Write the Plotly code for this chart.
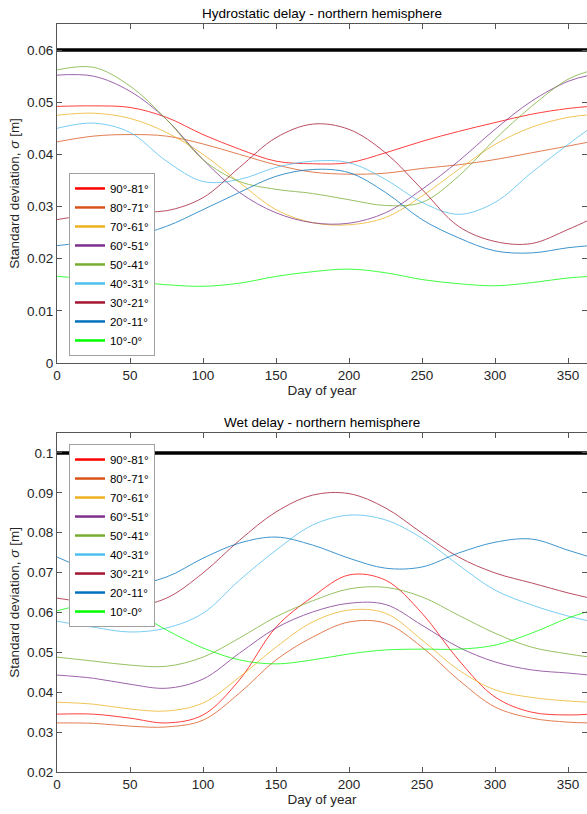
import plotly.graph_objects as go

days = [0, 25, 50, 75, 100, 125, 150, 175, 200, 225, 250, 275, 300, 325, 350, 365]

labels = ["90°-81°", "80°-71°", "70°-61°", "60°-51°", "50°-41°",
          "40°-31°", "30°-21°", "20°-11°", "10°-0°"]
colors = ["#FF0000", "#D95319", "#EDB120", "#7E2F8E", "#77AC30",
          "#4DBEEE", "#A2142F", "#0072BD", "#00FF00"]

# hydrostatic delay, std [m]
hydro_90_81 = [0.0492, 0.0493, 0.0490, 0.0471, 0.0438, 0.0410, 0.0387, 0.0382,
               0.0384, 0.0403, 0.0425, 0.0444, 0.0461, 0.0477, 0.0488, 0.0492]
hydro_80_71 = [0.0424, 0.0435, 0.0438, 0.0435, 0.0420, 0.0400, 0.0380, 0.0366,
               0.0362, 0.0364, 0.0373, 0.0380, 0.0390, 0.0403, 0.0416, 0.0424]
hydro_70_61 = [0.0475, 0.0479, 0.0469, 0.0442, 0.0400, 0.0346, 0.0294, 0.0269,
               0.0265, 0.0279, 0.0320, 0.0371, 0.0419, 0.0452, 0.0471, 0.0476]
hydro_60_51 = [0.0552, 0.0550, 0.0521, 0.0467, 0.0390, 0.0327, 0.0288, 0.0269,
               0.0268, 0.0288, 0.0333, 0.0387, 0.0448, 0.0502, 0.0540, 0.0552]
hydro_50_41 = [0.0562, 0.0567, 0.0531, 0.0467, 0.0390, 0.0348, 0.0333, 0.0325,
               0.0313, 0.0302, 0.0308, 0.0358, 0.0429, 0.0492, 0.0544, 0.0560]
hydro_40_31 = [0.0450, 0.0460, 0.0442, 0.0387, 0.0348, 0.0352, 0.0375, 0.0387,
               0.0384, 0.0352, 0.0308, 0.0285, 0.0308, 0.0365, 0.0419, 0.0450]
hydro_30_21 = [0.0275, 0.0285, 0.0290, 0.0292, 0.0317, 0.0375, 0.0432, 0.0458,
               0.0448, 0.0403, 0.0333, 0.0262, 0.0233, 0.0229, 0.0256, 0.0275]
hydro_20_11 = [0.0225, 0.0233, 0.0242, 0.0262, 0.0294, 0.0327, 0.0358, 0.0371,
               0.0365, 0.0327, 0.0275, 0.0240, 0.0215, 0.0211, 0.0221, 0.0225]
hydro_10_0 = [0.0166, 0.0161, 0.0156, 0.0150, 0.0147, 0.0153, 0.0166, 0.0175,
              0.0180, 0.0173, 0.0160, 0.0152, 0.0148, 0.0154, 0.0163, 0.0166]

# wet delay, std [m]
wet_90_81 = [0.0345, 0.0345, 0.0335, 0.0323, 0.0343, 0.0431, 0.0563, 0.0639,
             0.0694, 0.0681, 0.0598, 0.0481, 0.0388, 0.0350, 0.0343, 0.0345]
wet_80_71 = [0.0323, 0.0322, 0.0315, 0.0313, 0.0330, 0.0398, 0.0481, 0.0538,
             0.0576, 0.0573, 0.0513, 0.0431, 0.0363, 0.0335, 0.0325, 0.0323]
wet_70_61 = [0.0375, 0.0370, 0.0358, 0.0353, 0.0373, 0.0438, 0.0513, 0.0576,
             0.0606, 0.0598, 0.0531, 0.0456, 0.0406, 0.0387, 0.0378, 0.0375]
wet_60_51 = [0.0443, 0.0435, 0.0420, 0.0410, 0.0433, 0.0498, 0.0561, 0.0601,
             0.0623, 0.0620, 0.0568, 0.0513, 0.0476, 0.0456, 0.0448, 0.0443]
wet_50_41 = [0.0488, 0.0478, 0.0468, 0.0465, 0.0488, 0.0536, 0.0589, 0.0629,
             0.0659, 0.0663, 0.0639, 0.0593, 0.0548, 0.0513, 0.0496, 0.0488]
wet_40_31 = [0.0578, 0.0563, 0.0551, 0.0561, 0.0598, 0.0681, 0.0756, 0.0819,
             0.0844, 0.0832, 0.0786, 0.0719, 0.0656, 0.0619, 0.0591, 0.0578]
wet_30_21 = [0.0636, 0.0623, 0.0614, 0.0636, 0.0699, 0.0781, 0.0852, 0.0894,
             0.0898, 0.0862, 0.0799, 0.0739, 0.0699, 0.0674, 0.0649, 0.0636]
wet_20_11 = [0.0739, 0.0701, 0.0671, 0.0689, 0.0736, 0.0774, 0.0789, 0.0769,
             0.0736, 0.0711, 0.0714, 0.0749, 0.0776, 0.0784, 0.0756, 0.0739]
wet_10_0 = [0.0604, 0.0621, 0.0606, 0.0556, 0.0511, 0.0481, 0.0471, 0.0481,
            0.0496, 0.0506, 0.0508, 0.0508, 0.0518, 0.0548, 0.0586, 0.0604]

hydro_series = [hydro_90_81, hydro_80_71, hydro_70_61, hydro_60_51, hydro_50_41,
                hydro_40_31, hydro_30_21, hydro_20_11, hydro_10_0]
wet_series = [wet_90_81, wet_80_71, wet_70_61, wet_60_51, wet_50_41,
              wet_40_31, wet_30_21, wet_20_11, wet_10_0]

limit_days = [0, 365]
hydro_limit = [0.06, 0.06]
wet_limit = [0.1, 0.1]

FONT = "Liberation Sans, Arial, sans-serif"
TEXT = "#262626"

fig = go.Figure()

for panel, (series, limit) in enumerate([(hydro_series, hydro_limit), (wet_series, wet_limit)]):
    xa = "x" if panel == 0 else "x2"
    ya = "y" if panel == 0 else "y2"
    legend = "legend" if panel == 0 else "legend2"
    for name, color, values in zip(labels, colors, series):
        fig.add_trace(go.Scatter(
            x=days, y=values, mode="lines", line=dict(color=color, width=1, shape="spline"),
            opacity=0.75, showlegend=False, xaxis=xa, yaxis=ya, hoverinfo="skip",
        ))
    fig.add_trace(go.Scatter(
        x=limit_days, y=limit, mode="lines", line=dict(color="black", width=3.5),
        showlegend=False, xaxis=xa, yaxis=ya,
    ))
    # legend proxies with thicker lines, like the reference
    for name, color in zip(labels, colors):
        fig.add_trace(go.Scatter(
            x=[None], y=[None], mode="lines", name=name,
            line=dict(color=color, width=2.5), xaxis=xa, yaxis=ya, legend=legend,
        ))

axis_common = dict(
    showline=True, linecolor="#555", linewidth=1, mirror="ticks", automargin=False,
    ticks="inside", ticklen=5, tickcolor="#555", showgrid=False, zeroline=False,
    tickfont=dict(size=13.5, color=TEXT, family=FONT),
)
x_common = dict(axis_common, range=[0, 363], tickvals=[0, 50, 100, 150, 200, 250, 300, 350],
                title=dict(text="Day of year", font=dict(size=13.5, color=TEXT, family=FONT), standoff=2))
y_title = dict(text="Standard deviation, <i>σ</i> [m]", font=dict(size=13.5, color=TEXT, family=FONT),
               standoff=4)

legend_common = dict(
    bgcolor="white", bordercolor="#a0a0a0", borderwidth=1,
    font=dict(size=11.5, color="black", family=FONT),
    itemwidth=30, tracegroupgap=0, xanchor="left",
)

fig.update_layout(
    width=587, height=814,
    margin=dict(l=57, r=0, t=0, b=0, autoexpand=False),
    paper_bgcolor="white", plot_bgcolor="white",
    font=dict(family=FONT, color=TEXT),
    xaxis=dict(x_common, domain=[0, 1], anchor="y"),
    yaxis=dict(axis_common, domain=[0.5541, 0.9705], range=[0, 0.065], dtick=0.01,
               tick0=0, anchor="x", title=y_title),
    xaxis2=dict(x_common, domain=[0, 1], anchor="y2"),
    yaxis2=dict(axis_common, domain=[0.0516, 0.4681], range=[0.02, 0.105], dtick=0.01,
                tick0=0.02, anchor="x2", title=y_title),
    legend=dict(legend_common, x=0.0226, y=0.5627, yanchor="bottom"),
    legend2=dict(legend_common, x=0.0226, y=0.4545, yanchor="top"),
    annotations=[
        dict(text="Hydrostatic delay - northern hemisphere", xref="x domain", yref="y domain",
             x=0.5, y=1, yanchor="bottom", yshift=1, showarrow=False,
             font=dict(size=13.5, color="black", family=FONT)),
        dict(text="Wet delay - northern hemisphere", xref="x2 domain", yref="y2 domain",
             x=0.5, y=1, yanchor="bottom", yshift=1, showarrow=False,
             font=dict(size=13.5, color="black", family=FONT)),
    ],
)

# drop the default page margin so the figure fills the 587x814 window
fig.write_html("out.html", config={"displayModeBar": False},
               post_script="document.body.style.margin = '0';")
